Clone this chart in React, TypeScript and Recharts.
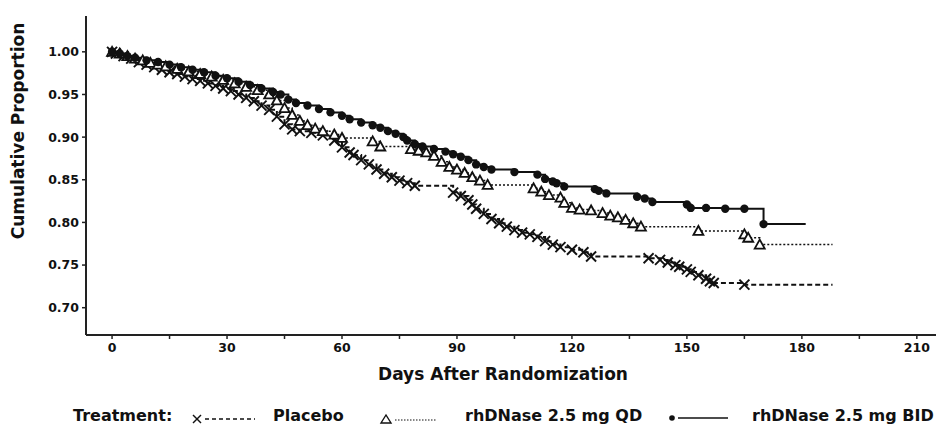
import React from 'react';
import { LineChart, Line, XAxis, YAxis } from 'recharts';

const FONT = 'DejaVu Sans';
const INK = '#111';

const xTicks = [0, 15, 30, 45, 60, 75, 90, 105, 120, 135, 150, 165, 180, 195, 210];
const yTicks = [0.7, 0.75, 0.8, 0.85, 0.9, 0.95, 1.0];

const seriesNames = ['Placebo', 'rhDNase 2.5 mg QD', 'rhDNase 2.5 mg BID'];

// [day, cumulative proportion]
const placebo: [number, number][] = [
  [0, 1.0], [1, 0.998], [3, 0.995], [5, 0.992], [7, 0.988], [9, 0.985], [11, 0.982], [13, 0.979],
  [15, 0.976], [17, 0.974], [19, 0.971], [21, 0.968], [23, 0.966], [25, 0.963], [27, 0.96], [29, 0.957],
  [31, 0.954], [33, 0.95], [35, 0.946], [37, 0.942], [39, 0.937], [41, 0.932], [43, 0.924], [45, 0.915],
  [47, 0.909], [49, 0.907], [52, 0.905], [55, 0.902], [58, 0.896], [60, 0.888], [62, 0.882], [63, 0.879],
  [65, 0.873], [67, 0.868], [69, 0.862], [71, 0.857], [73, 0.853], [75, 0.849], [77, 0.846], [79, 0.843],
  [89, 0.835], [91, 0.831], [93, 0.826], [94, 0.821], [95, 0.816], [97, 0.81], [99, 0.804], [101, 0.799],
  [103, 0.795], [105, 0.791], [107, 0.788], [109, 0.786], [111, 0.783], [113, 0.778], [115, 0.774], [117, 0.771],
  [120, 0.768], [123, 0.765], [125, 0.76], [140, 0.758], [143, 0.756], [145, 0.753], [147, 0.75], [148, 0.748],
  [150, 0.745], [151, 0.742], [153, 0.738], [155, 0.734], [156, 0.731], [157, 0.729], [165, 0.727],
];
const placeboEnd = 188;

const qd: [number, number][] = [
  [0, 1.0], [2, 0.998], [4, 0.995], [6, 0.992], [8, 0.99], [10, 0.987], [12, 0.985], [14, 0.983],
  [17, 0.98], [20, 0.977], [23, 0.974], [26, 0.971], [29, 0.967], [32, 0.963], [35, 0.959], [38, 0.955],
  [41, 0.95], [43, 0.943], [45, 0.934], [47, 0.926], [49, 0.919], [51, 0.914], [53, 0.91], [55, 0.907],
  [58, 0.903], [60, 0.899], [68, 0.895], [70, 0.889], [78, 0.886], [80, 0.884], [82, 0.882], [84, 0.878],
  [86, 0.871], [88, 0.865], [90, 0.862], [92, 0.858], [94, 0.853], [96, 0.849], [98, 0.844], [110, 0.84],
  [112, 0.836], [114, 0.832], [117, 0.829], [118, 0.823], [120, 0.817], [122, 0.815], [125, 0.814], [128, 0.811],
  [130, 0.808], [132, 0.806], [134, 0.803], [136, 0.799], [138, 0.795], [153, 0.79], [165, 0.786], [166, 0.782],
  [169, 0.774],
];
const qdEnd = 188;

const bid: [number, number][] = [
  [0, 1.0], [2, 0.998], [4, 0.995], [6, 0.993], [9, 0.99], [12, 0.988], [15, 0.985], [18, 0.982],
  [21, 0.979], [24, 0.976], [27, 0.972], [30, 0.969], [33, 0.965], [36, 0.961], [39, 0.957], [42, 0.953],
  [44, 0.95], [46, 0.944], [48, 0.94], [51, 0.937], [54, 0.933], [57, 0.929], [60, 0.925], [62, 0.921],
  [65, 0.917], [68, 0.914], [70, 0.911], [72, 0.907], [74, 0.904], [76, 0.9], [77, 0.896], [79, 0.892],
  [81, 0.889], [84, 0.886], [87, 0.883], [89, 0.88], [91, 0.877], [93, 0.873], [95, 0.868], [97, 0.865],
  [99, 0.862], [105, 0.859], [111, 0.856], [113, 0.851], [115, 0.848], [116, 0.846], [118, 0.842], [126, 0.839],
  [127, 0.837], [129, 0.834], [137, 0.83], [139, 0.828], [141, 0.824], [150, 0.821], [151, 0.817], [155, 0.817],
  [160, 0.816], [165, 0.816], [170, 0.798],
];
const bidEnd = 181;

type Row = { day: number; value: number; mark: boolean };
const toRows = (pts: [number, number][], end: number): Row[] => [
  ...pts.map(([day, value]) => ({ day, value, mark: true })),
  { day: end, value: pts[pts.length - 1][1], mark: false },
];

const placeboRows = toRows(placebo, placeboEnd);
const qdRows = toRows(qd, qdEnd);
const bidRows = toRows(bid, bidEnd);

const CrossDot = (p: any) => {
  const { cx, cy, payload, index } = p;
  if (!payload || !payload.mark || cx == null || cy == null) return <g key={`px${index}`} />;
  const s = 5;
  return (
    <g key={`px${index}`}>
      <line x1={cx - s} y1={cy - s} x2={cx + s} y2={cy + s} stroke={INK} strokeWidth={1.9} />
      <line x1={cx - s} y1={cy + s} x2={cx + s} y2={cy - s} stroke={INK} strokeWidth={1.9} />
    </g>
  );
};

const TriDot = (p: any) => {
  const { cx, cy, payload, index } = p;
  if (!payload || !payload.mark || cx == null || cy == null) return <g key={`qt${index}`} />;
  return (
    <polygon
      key={`qt${index}`}
      points={`${cx},${cy - 5} ${cx - 5},${cy + 4} ${cx + 5},${cy + 4}`}
      fill="#fff"
      stroke={INK}
      strokeWidth={1.8}
    />
  );
};

const CircleDot = (p: any) => {
  const { cx, cy, payload, index } = p;
  if (!payload || !payload.mark || cx == null || cy == null) return <g key={`bc${index}`} />;
  return <circle key={`bc${index}`} cx={cx} cy={cy} r={4.2} fill={INK} />;
};

const tickStyle = { fill: INK, fontSize: 12.5, fontWeight: 700, fontFamily: FONT };

const YLabel = () => (
  <text
    transform="translate(18,131) rotate(-90)"
    textAnchor="middle"
    dominantBaseline="central"
    fontFamily={FONT}
    fontWeight={700}
    fontSize={17}
    fill={INK}
  >
    Cumulative Proportion
  </text>
);

const XLabel = () => (
  <text x={503} y={380} textAnchor="middle" fontFamily={FONT} fontWeight={700} fontSize={17} fill={INK}>
    Days After Randomization
  </text>
);

const LegendBar = () => (
  <svg width={939} height={30} style={{ position: 'absolute', left: 0, top: 400 }}>
    <g fontFamily={FONT} fontWeight={700} fontSize={16} fill={INK}>
      <text x={73} y={21}>Treatment:</text>
      <line x1={193} y1={15} x2={201} y2={23} stroke={INK} strokeWidth={1.5} />
      <line x1={193} y1={23} x2={201} y2={15} stroke={INK} strokeWidth={1.5} />
      <line x1={205} y1={19} x2={255} y2={19} stroke={INK} strokeWidth={1.5} strokeDasharray="4 3" />
      <text x={273} y={21}>{seriesNames[0]}</text>
      <polygon points="386,15 381,23 391,23" fill="#fff" stroke={INK} strokeWidth={1.4} />
      <line x1={395} y1={20} x2={437} y2={20} stroke={INK} strokeWidth={1.2} strokeDasharray="1.5 1.5" />
      <text x={465} y={21}>{seriesNames[1]}</text>
      <circle cx={672} cy={18} r={2.8} fill={INK} />
      <line x1={678} y1={18} x2={728} y2={18} stroke={INK} strokeWidth={1.5} />
      <text x={752} y={21}>{seriesNames[2]}</text>
    </g>
  </svg>
);

export default function App() {
  return (
    <div style={{ position: 'absolute', left: 0, top: 0, width: 939, height: 424, background: '#fff' }}>
      <LineChart width={939} height={424} margin={{ top: 16, right: 3, bottom: 59, left: 0 }}>
        <XAxis
          dataKey="day"
          type="number"
          domain={[-6.8, 215]}
          allowDataOverflow
          ticks={xTicks}
          interval={0}
          tickFormatter={(v: number) => (v % 30 === 0 ? String(v) : '')}
          height={30}
          tickSize={4}
          tickMargin={4}
          tick={tickStyle}
          axisLine={{ stroke: '#222', strokeWidth: 2 }}
          tickLine={{ stroke: '#222', strokeWidth: 1.5 }}
          label={XLabel}
        />
        <YAxis
          type="number"
          domain={[0.668, 1.042]}
          allowDataOverflow
          ticks={yTicks}
          interval={0}
          tickFormatter={(v: number) => v.toFixed(2)}
          width={86}
          tickSize={4}
          tickMargin={3}
          tick={tickStyle}
          axisLine={{ stroke: '#222', strokeWidth: 2 }}
          tickLine={{ stroke: '#222', strokeWidth: 1.5 }}
          label={YLabel}
        />
        <Line
          data={placeboRows}
          dataKey="value"
          name={seriesNames[0]}
          type="stepAfter"
          stroke={INK}
          strokeWidth={2}
          strokeDasharray="5 3"
          dot={CrossDot}
          activeDot={false}
          isAnimationActive={false}
        />
        <Line
          data={qdRows}
          dataKey="value"
          name={seriesNames[1]}
          type="stepAfter"
          stroke={INK}
          strokeWidth={1.5}
          strokeDasharray="2 2"
          dot={TriDot}
          activeDot={false}
          isAnimationActive={false}
        />
        <Line
          data={bidRows}
          dataKey="value"
          name={seriesNames[2]}
          type="stepAfter"
          stroke={INK}
          strokeWidth={2}
          dot={CircleDot}
          activeDot={false}
          isAnimationActive={false}
        />
      </LineChart>
      <LegendBar />
    </div>
  );
}
